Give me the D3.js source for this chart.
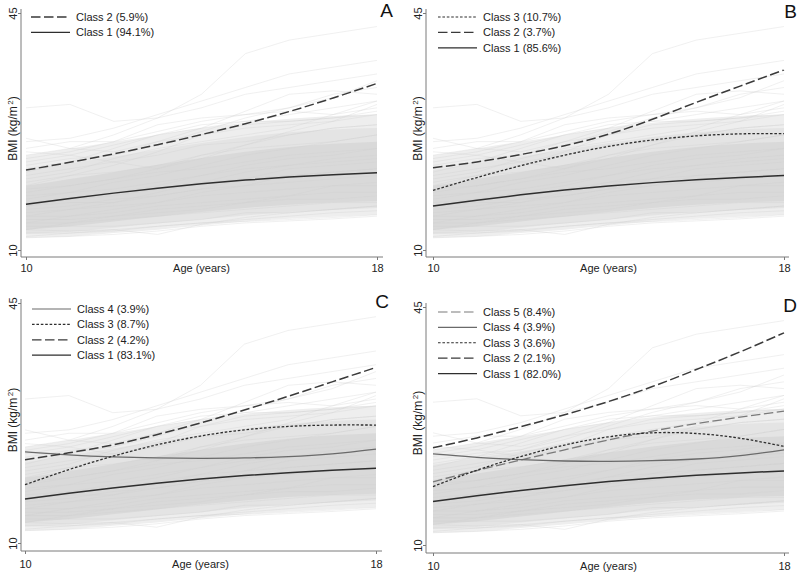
<!DOCTYPE html>
<html><head><meta charset="utf-8">
<script src="https://cdn.jsdelivr.net/npm/d3@7"></script>
<style>
body{margin:0;background:#fff}
svg{display:block;font-family:"Liberation Sans",Arial,sans-serif}
</style>
</head><body>
<svg id="chart" width="797" height="574"></svg>
<script>
// ---------- data ----------
const ages = [10, 11, 12, 13, 14, 15, 16, 17, 18];
const xTicks = [10, 18];
const yTicks = [10, 45];

// spread of individual BMI trajectories (background)
const outerLow  = [11.8, 12.0, 12.5, 13.0, 13.6, 14.2, 14.6, 14.9, 15.2];
const outerHigh = [24.0, 25.0, 26.0, 27.0, 28.0, 28.8, 29.4, 29.8, 30.0];
const midLow    = [12.4, 12.7, 13.3, 13.9, 14.5, 15.1, 15.6, 15.9, 16.2];
const midHigh   = [21.8, 22.8, 23.8, 24.8, 25.8, 26.7, 27.4, 27.8, 28.0];
const innerLow  = [13.0, 13.5, 14.2, 14.9, 15.6, 16.2, 16.7, 17.0, 17.2];
const innerHigh = [19.5, 20.5, 21.5, 22.6, 23.6, 24.5, 25.2, 25.7, 26.0];

const trajectories = [
  [31, 31.5, 29, 29.5, 31, 33, 34, 35, 36],
  [24, 25, 27, 29.5, 33, 39, 41, 42, 43],
  [26, 26.5, 28, 30, 32, 34, 36, 37, 38],
  [25, 26, 26, 27.5, 29, 30, 31, 33, 34],
  [23, 24, 25.5, 27, 28, 29, 30, 31, 32],
  [22, 23, 24, 26, 27, 28.5, 29, 29.5, 30],
  [21, 22, 23, 24, 25.5, 26, 27, 28, 28.5],
  [20, 21, 21.5, 22.5, 24, 25, 25.5, 26, 27],
  [19, 19.5, 20.5, 21.5, 22, 23, 24, 24.5, 25],
  [18, 18.5, 19, 20, 21, 22, 22.5, 23, 23.5],
  [17, 17.5, 18, 19, 20, 20.5, 21, 21.5, 22],
  [16, 16.5, 17.5, 18, 19, 19.5, 20, 20.5, 21],
  [15.5, 16, 16.5, 17, 18, 18.5, 19, 19.5, 19.5],
  [15, 15, 15.5, 16.5, 17, 17.5, 18, 18.5, 18.5],
  [14.5, 14.5, 15, 15.5, 16, 17, 17.5, 17.5, 18],
  [14, 14, 14.5, 15, 15.5, 16, 16.5, 17, 17],
  [13.5, 13.5, 13.5, 14, 14.5, 15.5, 15.5, 16, 16.5],
  [13, 12.8, 13, 13.5, 14, 14.5, 15, 15.5, 15.8],
  [12.5, 12.5, 12.8, 13.5, 14, 14.2, 14.5, 14.8, 15.2],
  [11.8, 12, 12.3, 12.8, 13.5, 14, 14.3, 14.6, 15],
  [12, 12.5, 13, 12.3, 13.8, 14.8, 15.5, 16, 16.5],
  [24.5, 24, 23, 22, 24, 25.5, 27.5, 29, 30],
  [26.5, 25, 24.5, 26, 28, 30.5, 33, 33.5, 33],
  [21.5, 23, 25, 27, 28.5, 29, 29, 29.5, 30.5],
  [19.5, 21, 22.5, 24.5, 27, 28, 28.5, 29, 31.5],
  [17.5, 18.5, 20, 21, 22.5, 24, 25, 26, 27],
  [16.5, 17, 17, 18.5, 20, 21.5, 22.5, 23.5, 24],
  [14, 15, 16, 17, 18.5, 19.5, 21, 21.5, 22],
  [18.5, 19.5, 20.5, 22, 23.5, 25.5, 27, 28, 28.5],
  [22.5, 23.5, 24, 25.5, 27.5, 29.5, 31, 32.5, 35],
  [20.5, 21.5, 23.5, 25, 26, 27, 28, 30, 32],
  [15, 16, 17, 18, 19, 20.5, 22, 22.5, 23],
  [13, 14, 15, 16, 16.5, 17, 18, 19.5, 20],
  [16.5, 17.5, 18.5, 19.5, 21, 22.5, 23.5, 24, 25],
  [23.5, 24.5, 26, 28.5, 29.5, 30, 30.5, 30, 31]
];

// class mean trajectories per model
const panelA_class1 = [16.75, 17.6, 18.4, 19.12, 19.77, 20.32, 20.77, 21.12, 21.4];
const panelA_class2 = [21.8, 22.95, 24.2, 25.55, 27.05, 28.65, 30.45, 32.45, 34.6];

const panelB_class1 = [16.5, 17.35, 18.15, 18.85, 19.45, 19.95, 20.37, 20.72, 21.0];
const panelB_class2 = [22.15, 23.0, 24.1, 25.4, 27.1, 29.3, 31.8, 34.2, 36.6];
const panelB_class3 = [18.8, 20.7, 22.45, 24.0, 25.3, 26.25, 26.85, 27.15, 27.2];

const panelC_class1 = [16.4, 17.25, 18.03, 18.73, 19.33, 19.83, 20.25, 20.6, 20.9];
const panelC_class2 = [22.15, 23.15, 24.3, 25.8, 27.5, 29.4, 31.4, 33.5, 35.6];
const panelC_class3 = [18.5, 20.7, 22.65, 24.3, 25.6, 26.5, 27.0, 27.2, 27.2];
const panelC_class4 = [23.3, 22.85, 22.55, 22.4, 22.35, 22.4, 22.6, 23.0, 23.7];

const panelD_class1 = [16.4, 17.25, 18.03, 18.73, 19.33, 19.83, 20.25, 20.6, 20.9];
const panelD_class2 = [24.3, 25.75, 27.4, 29.15, 31.1, 33.3, 35.8, 38.4, 41.2];
const panelD_class3 = [18.6, 21.0, 23.0, 24.7, 25.9, 26.5, 26.4, 25.7, 24.5];
const panelD_class4 = [23.4, 22.9, 22.55, 22.35, 22.3, 22.4, 22.65, 23.15, 24.0];
const panelD_class5 = [19.3, 20.95, 22.5, 24.0, 25.45, 26.75, 27.85, 28.8, 29.7];

const panelA_labels = ["Class 2 (5.9%)", "Class 1 (94.1%)"];
const panelB_labels = ["Class 3 (10.7%)", "Class 2 (3.7%)", "Class 1 (85.6%)"];
const panelC_labels = ["Class 4 (3.9%)", "Class 3 (8.7%)", "Class 2 (4.2%)", "Class 1 (83.1%)"];
const panelD_labels = ["Class 5 (8.4%)", "Class 4 (3.9%)", "Class 3 (3.6%)", "Class 2 (2.1%)", "Class 1 (82.0%)"];

const panelLetters = ["A", "B", "C", "D"];
const xTitle = "Age (years)";
const yTitleMain = "BMI (kg/m";
const yTitleSup = "2";
const yTitleEnd = ")";

// ---------- styles & layout ----------
const classStyle = {
  1: {stroke: "#2e2e2e", dash: null, width: 1.5},
  2: {stroke: "#3a3a3a", dash: "9.5,3.5", width: 1.5},
  3: {stroke: "#2e2e2e", dash: "2.6,1.8", width: 1.3},
  4: {stroke: "#6a6a6a", dash: null, width: 1.3},
  5: {stroke: "#7a7a7a", dash: "9.5,3.5", width: 1.3}
};

const panels = [
  {letter: panelLetters[0], ax: 21, xr: [26, 377], yr: [250, 13], xAxisY: 257, xEnd: 383, yTop: 9,
   legendX: 31, legendY: 17, letterX: 393, letterY: 17, tickLabY: 272,
   series: [[2, panelA_class2], [1, panelA_class1]], labels: panelA_labels},
  {letter: panelLetters[1], ax: 426, xr: [433, 784], yr: [250, 13], xAxisY: 257, xEnd: 789, yTop: 9,
   legendX: 438, legendY: 17, letterX: 797, letterY: 18, tickLabY: 272,
   series: [[3, panelB_class3], [2, panelB_class2], [1, panelB_class1]], labels: panelB_labels},
  {letter: panelLetters[2], ax: 21, xr: [25, 376], yr: [543, 303], xAxisY: 551, xEnd: 382, yTop: 299,
   legendX: 32, legendY: 309, letterX: 389, letterY: 308, tickLabY: 568,
   series: [[4, panelC_class4], [3, panelC_class3], [2, panelC_class2], [1, panelC_class1]], labels: panelC_labels},
  {letter: panelLetters[3], ax: 426, xr: [433, 784], yr: [545, 307], xAxisY: 553, xEnd: 789, yTop: 303,
   legendX: 438, legendY: 312, letterX: 797, letterY: 312, tickLabY: 570,
   series: [[5, panelD_class5], [4, panelD_class4], [3, panelD_class3], [2, panelD_class2], [1, panelD_class1]], labels: panelD_labels}
];

const svg = d3.select("#chart");

panels.forEach(p => {
  const x = d3.scaleLinear().domain([10, 18]).range(p.xr);
  const y = d3.scaleLinear().domain([10, 45]).range(p.yr);
  const g = svg.append("g");

  // background spread bands
  const bands = [[outerLow, outerHigh, "#eeeeee"], [midLow, midHigh, "#e4e4e4"], [innerLow, innerHigh, "#d9d9d9"]];
  bands.forEach(([lo, hi, col]) => {
    const area = d3.area().x((d, i) => x(ages[i]))
      .y0((d, i) => y(lo[i])).y1((d, i) => y(hi[i])).curve(d3.curveMonotoneX);
    g.append("path").datum(lo).attr("d", area).attr("fill", col);
  });

  // individual trajectories
  const line = d3.line().x((d, i) => x(ages[i])).y(d => y(d));
  g.append("g").selectAll("path").data(trajectories).join("path")
    .attr("d", line)
    .attr("fill", "none")
    .attr("stroke", "#cfcfcf")
    .attr("stroke-opacity", 0.42)
    .attr("stroke-width", 0.75);

  // class mean curves
  const smooth = d3.line().x((d, i) => x(ages[i])).y(d => y(d)).curve(d3.curveNatural);
  p.series.forEach(([cls, vals]) => {
    const s = classStyle[cls];
    g.append("path").datum(vals)
      .attr("d", smooth)
      .attr("fill", "none")
      .attr("stroke", s.stroke)
      .attr("stroke-width", s.width)
      .attr("stroke-dasharray", s.dash);
  });

  // frame lines
  g.append("line").attr("x1", p.ax).attr("x2", p.ax).attr("y1", p.yTop).attr("y2", p.xAxisY)
    .attr("stroke", "#7a7a7a").attr("stroke-width", 1);
  g.append("line").attr("x1", p.ax).attr("x2", p.xEnd).attr("y1", p.xAxisY).attr("y2", p.xAxisY)
    .attr("stroke", "#7a7a7a").attr("stroke-width", 1);

  // y axis
  const ya = g.append("g").attr("transform", `translate(${p.ax},0)`)
    .call(d3.axisLeft(y).tickValues(yTicks).tickSize(3).tickSizeOuter(0).tickFormat(d3.format("d")));
  ya.select(".domain").remove();
  ya.selectAll(".tick line").attr("stroke", "#7a7a7a");
  ya.selectAll(".tick text")
    .attr("transform", "rotate(-90)")
    .attr("x", 0).attr("y", -4).attr("dy", 0)
    .attr("text-anchor", "middle")
    .attr("font-size", 11).attr("fill", "#222")
    .attr("font-family", "Liberation Sans, Arial, sans-serif");

  // x axis
  const xa = g.append("g").attr("transform", `translate(0,${p.xAxisY})`)
    .call(d3.axisBottom(x).tickValues(xTicks).tickSize(3).tickSizeOuter(0).tickFormat(d3.format("d")));
  xa.select(".domain").remove();
  xa.selectAll(".tick line").attr("stroke", "#7a7a7a");
  xa.selectAll(".tick text")
    .attr("y", p.tickLabY - p.xAxisY).attr("dy", 0)
    .attr("font-size", 11).attr("fill", "#222")
    .attr("font-family", "Liberation Sans, Arial, sans-serif");

  // axis titles
  g.append("text").attr("x", (p.xr[0] + p.xr[1]) / 2).attr("y", p.tickLabY)
    .attr("text-anchor", "middle").attr("font-size", 11).attr("fill", "#222").text(xTitle);
  const yc = (p.yr[0] + p.yr[1]) / 2 - 3;
  const yt = g.append("text").attr("transform", `translate(${p.ax - 4},${yc}) rotate(-90)`)
    .attr("text-anchor", "middle").attr("font-size", 12).attr("fill", "#222");
  yt.append("tspan").text(yTitleMain);
  yt.append("tspan").attr("dx", 1.5).attr("dy", -4).attr("font-size", 8).text(yTitleSup);
  yt.append("tspan").attr("dy", 4).text(yTitleEnd);

  // legend
  p.series.forEach(([cls], i) => {
    const s = classStyle[cls];
    const ly = p.legendY + i * 15.4;
    g.append("line").attr("x1", p.legendX).attr("x2", p.legendX + 39)
      .attr("y1", ly).attr("y2", ly)
      .attr("stroke", s.stroke).attr("stroke-width", s.width - 0.2)
      .attr("stroke-dasharray", s.dash);
    g.append("text").attr("x", p.legendX + 45).attr("y", ly + 4)
      .attr("font-size", 11).attr("fill", "#222").text(p.labels[i]);
  });

  // panel letter
  g.append("text").attr("x", p.letterX).attr("y", p.letterY)
    .attr("text-anchor", "end").attr("font-size", 19).attr("fill", "#111").text(p.letter);
});
</script>
</body></html>
